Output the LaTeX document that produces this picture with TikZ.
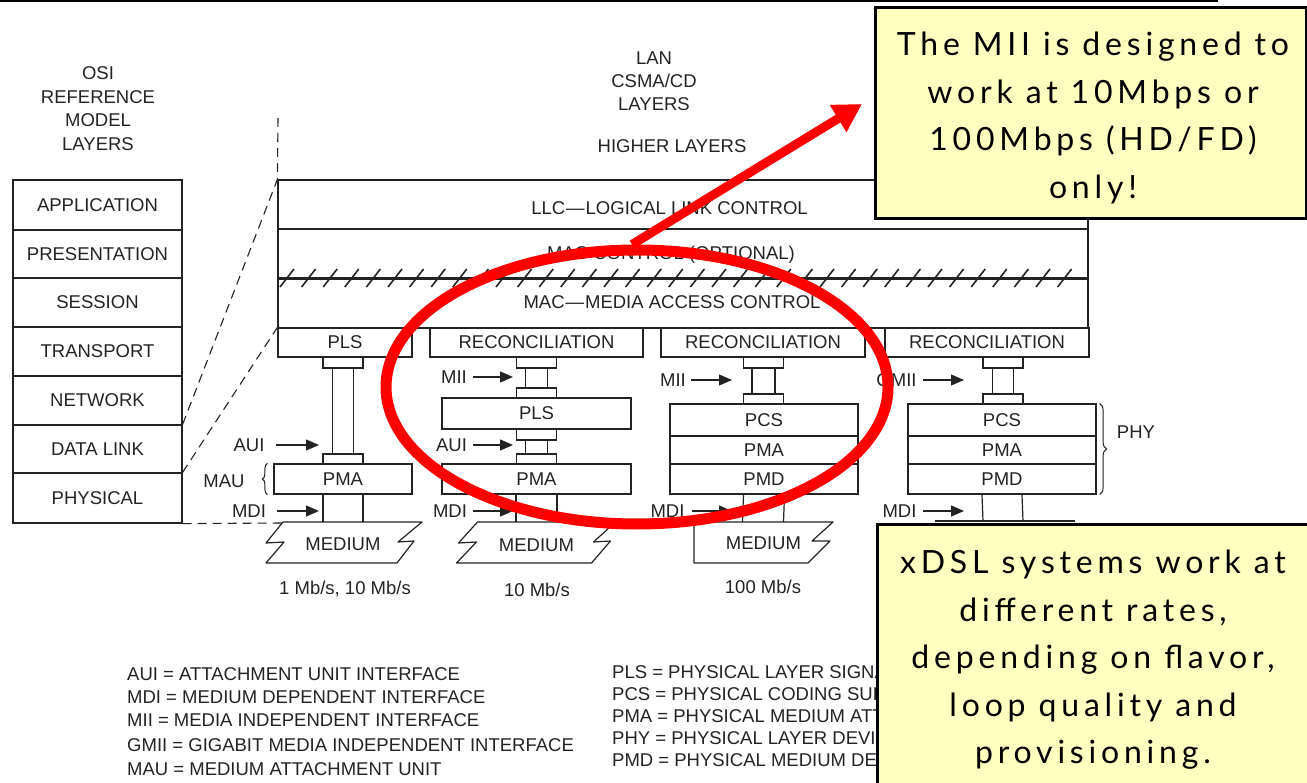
\documentclass[tikz,border=0pt]{standalone}
\usepackage{fontspec}
\setmainfont{Liberation Sans}
\newfontfamily\notefont[LetterSpace=15]{Lato}
\usetikzlibrary{arrows.meta,shapes.geometric,decorations.pathreplacing}
\definecolor{noteyellow}{RGB}{255,255,192}
\definecolor{ink}{RGB}{35,35,35}
\begin{document}
\begin{tikzpicture}[x=1pt,y=-1pt,
  every node/.style={font=\fontsize{18.5}{22}\selectfont, text=ink},
  box/.style={draw=ink, line width=1.2pt, inner sep=0pt},
  nub/.style={draw=ink, line width=1.2pt, minimum width=40pt, inner sep=0pt},
  wire/.style={draw=ink, line width=1.2pt},
  lbl/.style={inner sep=0pt},
  ptr/.style={draw=ink, line width=1.2pt, -{Triangle[length=13pt,width=11pt]}},
  dashln/.style={draw=ink, line width=1.1pt, dash pattern=on 9pt off 6pt},
  note/.style={draw=black, line width=3pt, fill=noteyellow, inner sep=0pt},
  notetext/.style={inner sep=0pt, text=black, align=center, font=\notefont\fontsize{32}{47.5}\selectfont},
  ring/.style={draw=red, line width=11pt, ellipse, inner sep=0pt},
  redarrow/.style={draw=red, line width=9pt, -{Triangle[length=28pt,width=30pt]}},
  bracestyle/.style={draw=ink, line width=1pt, decorate}
]
\useasboundingbox (0,0) rectangle (1307,783);
\clip (0,0) rectangle (1307,783);
\fill[white] (0,0) rectangle (1307,783);

% top rule
\coordinate (topl) at (0,1.5);
\coordinate (topr) at (1218,1.5);
\draw[line width=2pt, black] (topl) -- (topr);

% OSI stack
\node[align=center, font=\fontsize{18.5}{23.7}\selectfont] (osititle) at (98,108.5) {OSI\\REFERENCE\\MODEL\\LAYERS};
\node[box, minimum width=169pt, minimum height=50pt] (app) at (97.5,205) {APPLICATION};
\node[box, minimum width=169pt, minimum height=48pt] (pres) at (97.5,254) {PRESENTATION};
\node[box, minimum width=169pt, minimum height=49pt] (sess) at (97.5,302.5) {SESSION};
\node[box, minimum width=169pt, minimum height=49pt] (trans) at (97.5,351.5) {TRANSPORT};
\node[box, minimum width=169pt, minimum height=49pt] (net) at (97.5,400.5) {NETWORK};
\node[box, minimum width=169pt, minimum height=48pt] (dl) at (97.5,449) {DATA LINK};
\node[box, minimum width=169pt, minimum height=50pt] (phys) at (97.5,498) {PHYSICAL};

% LAN titles
\node[align=center, font=\fontsize{18.5}{23}\selectfont] (lantitle) at (654,81) {LAN\\CSMA/CD\\LAYERS};
\node (higher) at (672,146) {HIGHER LAYERS};

% LAN boxes
\node[box, minimum width=810pt, minimum height=49pt] (llc) at (683,204.5) {};
\node[box, minimum width=810pt, minimum height=49pt] (macc) at (683,253.5) {};
\node[box, minimum width=810pt, minimum height=50pt] (mac) at (683,303) {};
\node (llctext) at (669.5,208) {LLC\kern1pt—\kern1pt LOGICAL LINK CONTROL};
\node (macctext) at (671,255) {MAC CONTROL (OPTIONAL)};
\node (mactext) at (672,302) {MAC\kern1pt—\kern1pt MEDIA ACCESS CONTROL};
\draw[line width=2.6pt, ink] (macc.south west) -- (macc.south east);
\foreach \i in {0,...,36} {
  \draw[line width=1.6pt, ink] (287+\i*21.6-7,287) -- ++(14,-18);
}

% sublayer boxes
\node[box, minimum width=134pt, minimum height=29pt] (pls1) at (345,342.5) {PLS};
\node[box, minimum width=213pt, minimum height=29pt] (rec1) at (536.5,342.5) {RECONCILIATION};
\node[box, minimum width=204pt, minimum height=29pt] (rec2) at (763,342.5) {RECONCILIATION};
\node[box, minimum width=204pt, minimum height=29pt] (rec3) at (987,342.5) {RECONCILIATION};

% dashed mapping lines
\coordinate (dtop) at (278,118);
\coordinate (m1l) at (283,523);
\draw[dashln] (dtop) -- (llc.north west);
\draw[dashln] (dl.north east) -- (llc.north west);
\draw[dashln] (phys.north east) -- (pls1.north west);
\draw[dashln] (phys.south east) -- (m1l);

% column 1
\node[nub, minimum height=11pt] (n1a) at (343,362.5) {};
\node[nub, minimum height=10pt] (n1b) at (343,459) {};
\node[box, minimum width=138pt, minimum height=30pt] (pma1) at (343,479) {PMA};
\draw[wire] ([xshift=-10.5pt]n1a.south) -- ([xshift=-10.5pt]n1b.north);
\draw[wire] ([xshift=10.5pt]n1a.south) -- ([xshift=10.5pt]n1b.north);
\coordinate (m1) at (343,522);
\draw[wire] ([xshift=-20pt]pma1.south) -- ([xshift=-20pt]m1);
\draw[wire] ([xshift=20pt]pma1.south) -- ([xshift=20pt]m1);
\node[lbl] (aui1) at (249,445) {AUI};
\coordinate (aui1t) at (319,445);
\draw[ptr] ([xshift=11pt]aui1.east) -- (aui1t);
\node[lbl] (mdi1) at (249,511) {MDI};
\coordinate (mdi1t) at (319,511);
\draw[ptr] ([xshift=11pt]mdi1.east) -- (mdi1t);
\node[lbl] (mau1) at (224,481) {MAU};
\draw[bracestyle, decoration={brace, amplitude=5pt}] ([xshift=-6pt]pma1.south west) -- ([xshift=-6pt]pma1.north west);

% column 2
\node[nub, minimum height=11pt] (n2a) at (536.5,362.5) {};
\node[nub, minimum height=10pt] (n2b) at (536.5,393) {};
\node[box, minimum width=189pt, minimum height=31pt] (pls2) at (536.5,413.5) {PLS};
\node[nub, minimum height=11pt] (n2c) at (536.5,434.5) {};
\node[nub, minimum height=10pt] (n2d) at (536.5,459) {};
\node[box, minimum width=189pt, minimum height=30pt] (pma2) at (536.5,479) {PMA};
\draw[wire] ([xshift=-11pt]n2a.south) -- ([xshift=-11pt]n2b.north);
\draw[wire] ([xshift=11pt]n2a.south) -- ([xshift=11pt]n2b.north);
\draw[wire] ([xshift=-11pt]n2c.south) -- ([xshift=-11pt]n2d.north);
\draw[wire] ([xshift=11pt]n2c.south) -- ([xshift=11pt]n2d.north);
\coordinate (m2) at (536.5,522);
\draw[wire] ([xshift=-20.5pt]pma2.south) -- ([xshift=-20.5pt]m2);
\draw[wire] ([xshift=20.5pt]pma2.south) -- ([xshift=20.5pt]m2);
\node[lbl] (mii2) at (454,377) {MII};
\coordinate (mii2t) at (513,377);
\draw[ptr] ([xshift=6pt]mii2.east) -- (mii2t);
\node[lbl] (aui2) at (451.5,445) {AUI};
\coordinate (aui2t) at (513,445);
\draw[ptr] ([xshift=6pt]aui2.east) -- (aui2t);
\node[lbl] (mdi2) at (450,511) {MDI};
\coordinate (mdi2t) at (513,511);
\draw[ptr] ([xshift=6pt]mdi2.east) -- (mdi2t);

% column 3
\node[nub, minimum height=11pt] (n3a) at (763.5,362.5) {};
\node[nub, minimum height=10pt] (n3b) at (763.5,399) {};
\node[box, minimum width=188pt, minimum height=32pt] (pcs3) at (764,420) {PCS};
\node[box, minimum width=188pt, minimum height=28pt] (pma3) at (764,450) {PMA};
\node[box, minimum width=188pt, minimum height=30pt] (pmd3) at (764,479) {PMD};
\draw[wire] ([xshift=-11.5pt]n3a.south) -- ([xshift=-11.5pt]n3b.north);
\draw[wire] ([xshift=11.5pt]n3a.south) -- ([xshift=11.5pt]n3b.north);
\coordinate (m3) at (763.5,522);
\draw[wire] ([xshift=-20.5pt]pmd3.south) -- ([xshift=-21pt]m3);
\draw[wire] ([xshift=20.5pt]pmd3.south) -- ([xshift=20pt]m3);
\node[lbl] (mii3) at (673,380) {MII};
\coordinate (mii3t) at (732,380);
\draw[ptr] ([xshift=5pt]mii3.east) -- (mii3t);
\node[lbl] (mdi3) at (667.5,511) {MDI};
\coordinate (mdi3t) at (732,511);
\draw[ptr] ([xshift=7pt]mdi3.east) -- (mdi3t);

% column 4
\node[nub, minimum height=11pt] (n4a) at (1003,362.5) {};
\node[nub, minimum height=10pt] (n4b) at (1003,399) {};
\node[box, minimum width=188pt, minimum height=32pt] (pcs4) at (1002,420) {PCS};
\node[box, minimum width=188pt, minimum height=28pt] (pma4) at (1002,450) {PMA};
\node[box, minimum width=188pt, minimum height=30pt] (pmd4) at (1002,479) {PMD};
\draw[wire] ([xshift=-10.5pt]n4a.south) -- ([xshift=-10.5pt]n4b.north);
\draw[wire] ([xshift=10.5pt]n4a.south) -- ([xshift=10.5pt]n4b.north);
\coordinate (m4) at (1003,521);
\draw[wire] ([xshift=-20pt]pmd4.south) -- ([xshift=-20pt]m4);
\draw[wire] ([xshift=20pt]pmd4.south) -- ([xshift=20pt]m4);
\draw[line width=2pt, ink] ([xshift=-68pt]m4) -- ([xshift=72pt]m4);
\node[lbl] (gmii4) at (896.5,380) {GMII};
\coordinate (gmii4t) at (964,380);
\draw[ptr] ([xshift=6pt]gmii4.east) -- (gmii4t);
\node[lbl] (mdi4) at (899.5,511) {MDI};
\coordinate (mdi4t) at (964,511);
\draw[ptr] ([xshift=6pt]mdi4.east) -- (mdi4t);
\draw[bracestyle, decoration={brace, amplitude=7pt}] ([xshift=3pt]pcs4.north east) -- ([xshift=3pt]pmd4.south east);
\node (phy) at (1136,432) {PHY};

% media
\begin{scope}[shift={(m1)}]
  \draw[wire, line join=round] (-60,0) -- (79,0) -- (55,20) -- (71,19) -- (54,41) -- (-77,41) -- (-59,20) -- (-77,21) -- cycle;
  \node (med1) at (0,22) {MEDIUM};
\end{scope}
\begin{scope}[shift={(m2)}]
  \draw[wire, line join=round] (-59,0) -- (79,0) -- (57,20) -- (74,19) -- (55,41) -- (-80,41) -- (-60,20) -- (-78,21) -- cycle;
  \node (med2) at (0,23) {MEDIUM};
\end{scope}
\begin{scope}[shift={(m3)}]
  \draw[wire, line join=round] (-69.5,0) -- (69.5,0) -- (48.5,19) -- (66.5,19) -- (44.5,41) -- (-69.5,41) -- cycle;
  \node (med3) at (0,21) {MEDIUM};
\end{scope}
\node (rate1) at (345,589) {1 Mb/s, 10 Mb/s};
\node (rate2) at (537,590) {10 Mb/s};
\node (rate3) at (763,587) {100 Mb/s};

% legend
\node[lbl, anchor=west] (lg1) at (127,674) {AUI = ATTACHMENT UNIT INTERFACE};
\node[lbl, anchor=west] (lg2) at (127,697) {MDI = MEDIUM DEPENDENT INTERFACE};
\node[lbl, anchor=west] (lg3) at (127,720) {MII = MEDIA INDEPENDENT INTERFACE};
\node[lbl, anchor=west] (lg4) at (127,745) {GMII = GIGABIT MEDIA INDEPENDENT INTERFACE};
\node[lbl, anchor=west] (lg5) at (127,769) {MAU = MEDIUM ATTACHMENT UNIT};
\node[lbl, anchor=west] (lg6) at (612,672) {PLS = PHYSICAL LAYER SIGNALING};
\node[lbl, anchor=west] (lg7) at (612,694) {PCS = PHYSICAL CODING SUBLAYER};
\node[lbl, anchor=west] (lg8) at (612,716) {PMA = PHYSICAL MEDIUM ATTACHMENT};
\node[lbl, anchor=west] (lg9) at (612,738) {PHY = PHYSICAL LAYER DEVICE};
\node[lbl, anchor=west] (lg10) at (612,760) {PMD = PHYSICAL MEDIUM DEPENDENT};

% red highlight
\node[ring, minimum width=502pt, minimum height=274pt] (hl) at (637,387) {};
\coordinate (tipc) at (862,104);
\draw[redarrow] ([xshift=-5pt]hl.north) -- (tipc);

% notes
\node[note, minimum width=431pt, minimum height=211pt] (note1) at (1090.5,113.5) {};
\node[notetext] (note1text) at (1093,118) {The MII is designed to\\work at 10Mbps or\\100Mbps (HD/FD)\\only!};
\node[note, minimum width=434pt, minimum height=272pt] (note2) at (1094,660) {};
\node[notetext] (note2text) at (1093,660) {xDSL systems work at\\different rates,\\depending on flavor,\\loop quality and\\provisioning.};
\end{tikzpicture}
\end{document}
